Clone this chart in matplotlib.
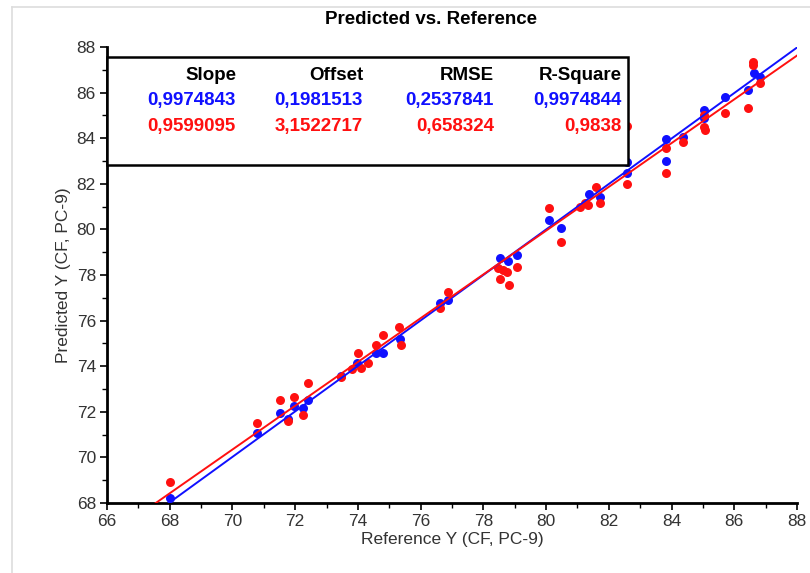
import matplotlib
matplotlib.use("Agg")
import matplotlib.pyplot as plt
import numpy as np
from matplotlib.patches import Rectangle
from matplotlib.ticker import MultipleLocator
from matplotlib.lines import Line2D

plt.rcParams['font.family'] = ['Liberation Sans Narrow', 'Liberation Sans', 'DejaVu Sans']

# ---- data ----
blue_x = [68.0, 70.78, 71.52, 71.78, 71.96, 72.26, 72.42, 73.45, 73.98, 74.58, 74.81, 75.35,
          76.62, 76.88, 78.53, 78.8, 79.06, 80.1, 80.48, 81.38, 81.72, 82.57, 82.57,
          83.83, 83.83, 84.37, 85.05, 85.05, 85.7, 86.45, 86.62, 86.82]
blue_y = [68.2, 71.05, 71.93, 71.7, 72.25, 72.15, 72.52, 73.55, 74.13, 74.57, 74.57, 75.2,
          76.79, 76.9, 78.73, 78.6, 78.88, 80.42, 80.05, 81.55, 81.42, 82.95, 82.46,
          83.95, 83.0, 84.05, 85.24, 84.9, 85.82, 86.11, 86.85, 86.67]
red_x = [68.0, 70.78, 71.52, 71.78, 71.96, 72.26, 72.4, 73.45, 73.82, 74.01, 74.1, 74.33,
         74.58, 74.81, 75.31, 75.36, 76.62, 76.88, 78.48, 78.64, 78.74, 78.53, 78.82, 79.06,
         80.1, 80.48, 81.07, 81.25, 81.35, 81.59, 81.72, 82.57, 82.58, 83.83, 83.83, 84.38,
         85.05, 85.05, 85.06, 85.7, 86.45, 86.6, 86.6, 86.82]
red_y = [68.9, 71.5, 72.53, 71.61, 72.64, 71.86, 73.28, 73.54, 73.86, 74.58, 73.93, 74.13,
         74.93, 75.35, 75.73, 74.93, 76.54, 77.27, 78.29, 78.22, 78.14, 77.81, 77.56, 78.34,
         80.93, 79.45, 81.0, 81.14, 81.07, 81.86, 81.14, 84.54, 82.0, 83.56, 82.46, 83.85,
         85.02, 84.5, 84.35, 85.12, 85.31, 87.36, 87.2, 86.41]

headers = ["Slope", "Offset", "RMSE", "R-Square"]
blue_stats = ["0,9974843", "0,1981513", "0,2537841", "0,9974844"]
red_stats = ["0,9599095", "3,1522717", "0,658324", "0,9838"]
blue_fit = (0.9974843, 0.1981513)
red_fit = (0.9599095, 3.1522717)

BLUE = "#1010ff"
RED = "#ff1010"

W, H = 810, 573
fig = plt.figure(figsize=(W / 100, H / 100), dpi=100)

def fx(px):
    return px / W

def fy(py):
    return 1 - py / H

ax = fig.add_axes([fx(107), fy(503), (797 - 107) / W, (503 - 47) / H])
ax.set_xlim(66, 88)
ax.set_ylim(68, 88)

ax.scatter(blue_x, blue_y, s=42, color=BLUE, zorder=3, linewidths=0)
ax.scatter(red_x, red_y, s=42, color=RED, zorder=3, linewidths=0)

xx = np.array([60, 95])
ax.plot(xx, blue_fit[0] * xx + blue_fit[1], color=BLUE, lw=1.4, zorder=4)
ax.plot(xx, red_fit[0] * xx + red_fit[1], color=RED, lw=1.4, zorder=4)

for s in ["top", "right"]:
    ax.spines[s].set_visible(False)
for s in ["left", "bottom"]:
    ax.spines[s].set_linewidth(2.0)
    ax.spines[s].set_color("black")

ax.xaxis.set_major_locator(MultipleLocator(2))
ax.xaxis.set_minor_locator(MultipleLocator(1))
ax.yaxis.set_major_locator(MultipleLocator(2))
ax.yaxis.set_minor_locator(MultipleLocator(1))
ax.tick_params(which="major", direction="out", length=5, width=1.2, labelsize=12.5, pad=3,
               colors="black", labelcolor="#333333")
ax.tick_params(which="minor", direction="out", length=3.5, width=1.0)

ax.set_xlabel("Reference Y (CF, PC-9)", fontsize=12.5, color="#333333", labelpad=2)
ax.set_ylabel("Predicted Y (CF, PC-9)", fontsize=12.5, color="#333333", labelpad=4)

# stats box
box = Rectangle((0, (503 - 165) / 456), (628 - 107) / 690, (165 - 57) / 456,
                transform=ax.transAxes, facecolor="white", edgecolor="black",
                lw=1.8, zorder=6, clip_on=False)
ax.add_patch(box)

col_right = [236, 363, 494, 622]
for i, t in enumerate(headers):
    fig.text(fx(col_right[i]), fy(75), t, ha="right", va="center", fontsize=13.5,
             fontweight="bold", color="black", zorder=7)
for i, t in enumerate(blue_stats):
    fig.text(fx(col_right[i]), fy(101), t, ha="right", va="center", fontsize=13.5,
             fontweight="bold", color=BLUE, zorder=7)
for i, t in enumerate(red_stats):
    fig.text(fx(col_right[i]), fy(127), t, ha="right", va="center", fontsize=13.5,
             fontweight="bold", color=RED, zorder=7)

fig.text(fx(431), fy(20), "Predicted vs. Reference", ha="center", va="center",
         fontsize=13.5, fontweight="bold", color="black")

# light outer frame
fig.add_artist(Line2D([fx(12), fx(12)], [fy(7), 0], color="#dddddd", lw=1.2))
fig.add_artist(Line2D([fx(12), 1], [fy(7), fy(7)], color="#dddddd", lw=1.2))

fig.savefig("out.png", dpi=100)
